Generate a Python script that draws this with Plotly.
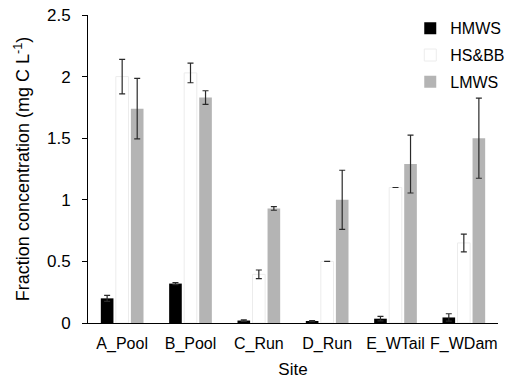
import plotly.graph_objects as go

sites = ["A_Pool", "B_Pool", "C_Run", "D_Run", "E_WTail", "F_WDam"]
hmws = [0.20, 0.32, 0.02, 0.015, 0.035, 0.045]
hmws_err = [0.025, 0.008, 0.006, 0.005, 0.018, 0.03]
hsbb = [2.00, 2.03, 0.395, 0.50, 1.10, 0.65]
hsbb_err = [0.14, 0.08, 0.035, 0.0, 0.0, 0.072]
lmws = [1.74, 1.83, 0.93, 1.00, 1.29, 1.50]
lmws_err = [0.245, 0.055, 0.015, 0.24, 0.235, 0.325]
y_ticks = [0, 0.5, 1, 1.5, 2, 2.5]
y_tick_text = ["0", "0.5", "1", "1.5", "2", "2.5"]

font = "Liberation Sans, Arial, sans-serif"
err_color = "#2a2a2a"

def err(vals):
    return dict(type="data", array=vals, visible=True, color=err_color,
                thickness=1.2, width=3)

fig = go.Figure()
fig.add_trace(go.Bar(name="HMWS", x=sites, y=hmws, error_y=err(hmws_err),
                     legendgroup="a",
                     marker=dict(color="#000000", line=dict(width=0))))
fig.add_trace(go.Bar(name="HS&BB", x=sites, y=hsbb, error_y=err(hsbb_err),
                     legendgroup="b",
                     marker=dict(color="#ffffff", line=dict(color="#ececec", width=1))))
fig.add_trace(go.Bar(name="LMWS", x=sites, y=lmws, error_y=err(lmws_err),
                     legendgroup="c",
                     marker=dict(color="#b4b4b4", line=dict(width=0))))

fig.update_layout(
    width=513, height=382,
    margin=dict(l=88, r=3, t=15, b=59),
    paper_bgcolor="white", plot_bgcolor="white",
    barmode="group", bargap=0.34, bargroupgap=0.16,
    font=dict(family=font, size=16, color="#000000"),
    showlegend=True,
    legend=dict(x=0.786, y=1.012, xanchor="left", yanchor="top",
                bgcolor="rgba(0,0,0,0)", font=dict(size=16),
                tracegroupgap=3, itemwidth=30),
    xaxis=dict(showline=True, linecolor="#000000", linewidth=1,
               ticks="", showgrid=False, ticklabelstandoff=6,
               tickangle=0, automargin=False,
               title=dict(text="Site", font=dict(size=17), standoff=10),
               tickfont=dict(size=16)),
    yaxis=dict(range=[0, 2.5], tickvals=y_ticks, ticktext=y_tick_text,
               showline=True, linecolor="#000000", linewidth=1,
               ticks="outside", ticklen=5, tickcolor="#000000",
               ticklabelstandoff=8, automargin=False,
               showgrid=False, zeroline=False,
               title=dict(text="Fraction concentration (mg C L<sup>-1</sup>)",
                          font=dict(size=18), standoff=12),
               tickfont=dict(size=17)),
)

fig.write_html("out.html")
